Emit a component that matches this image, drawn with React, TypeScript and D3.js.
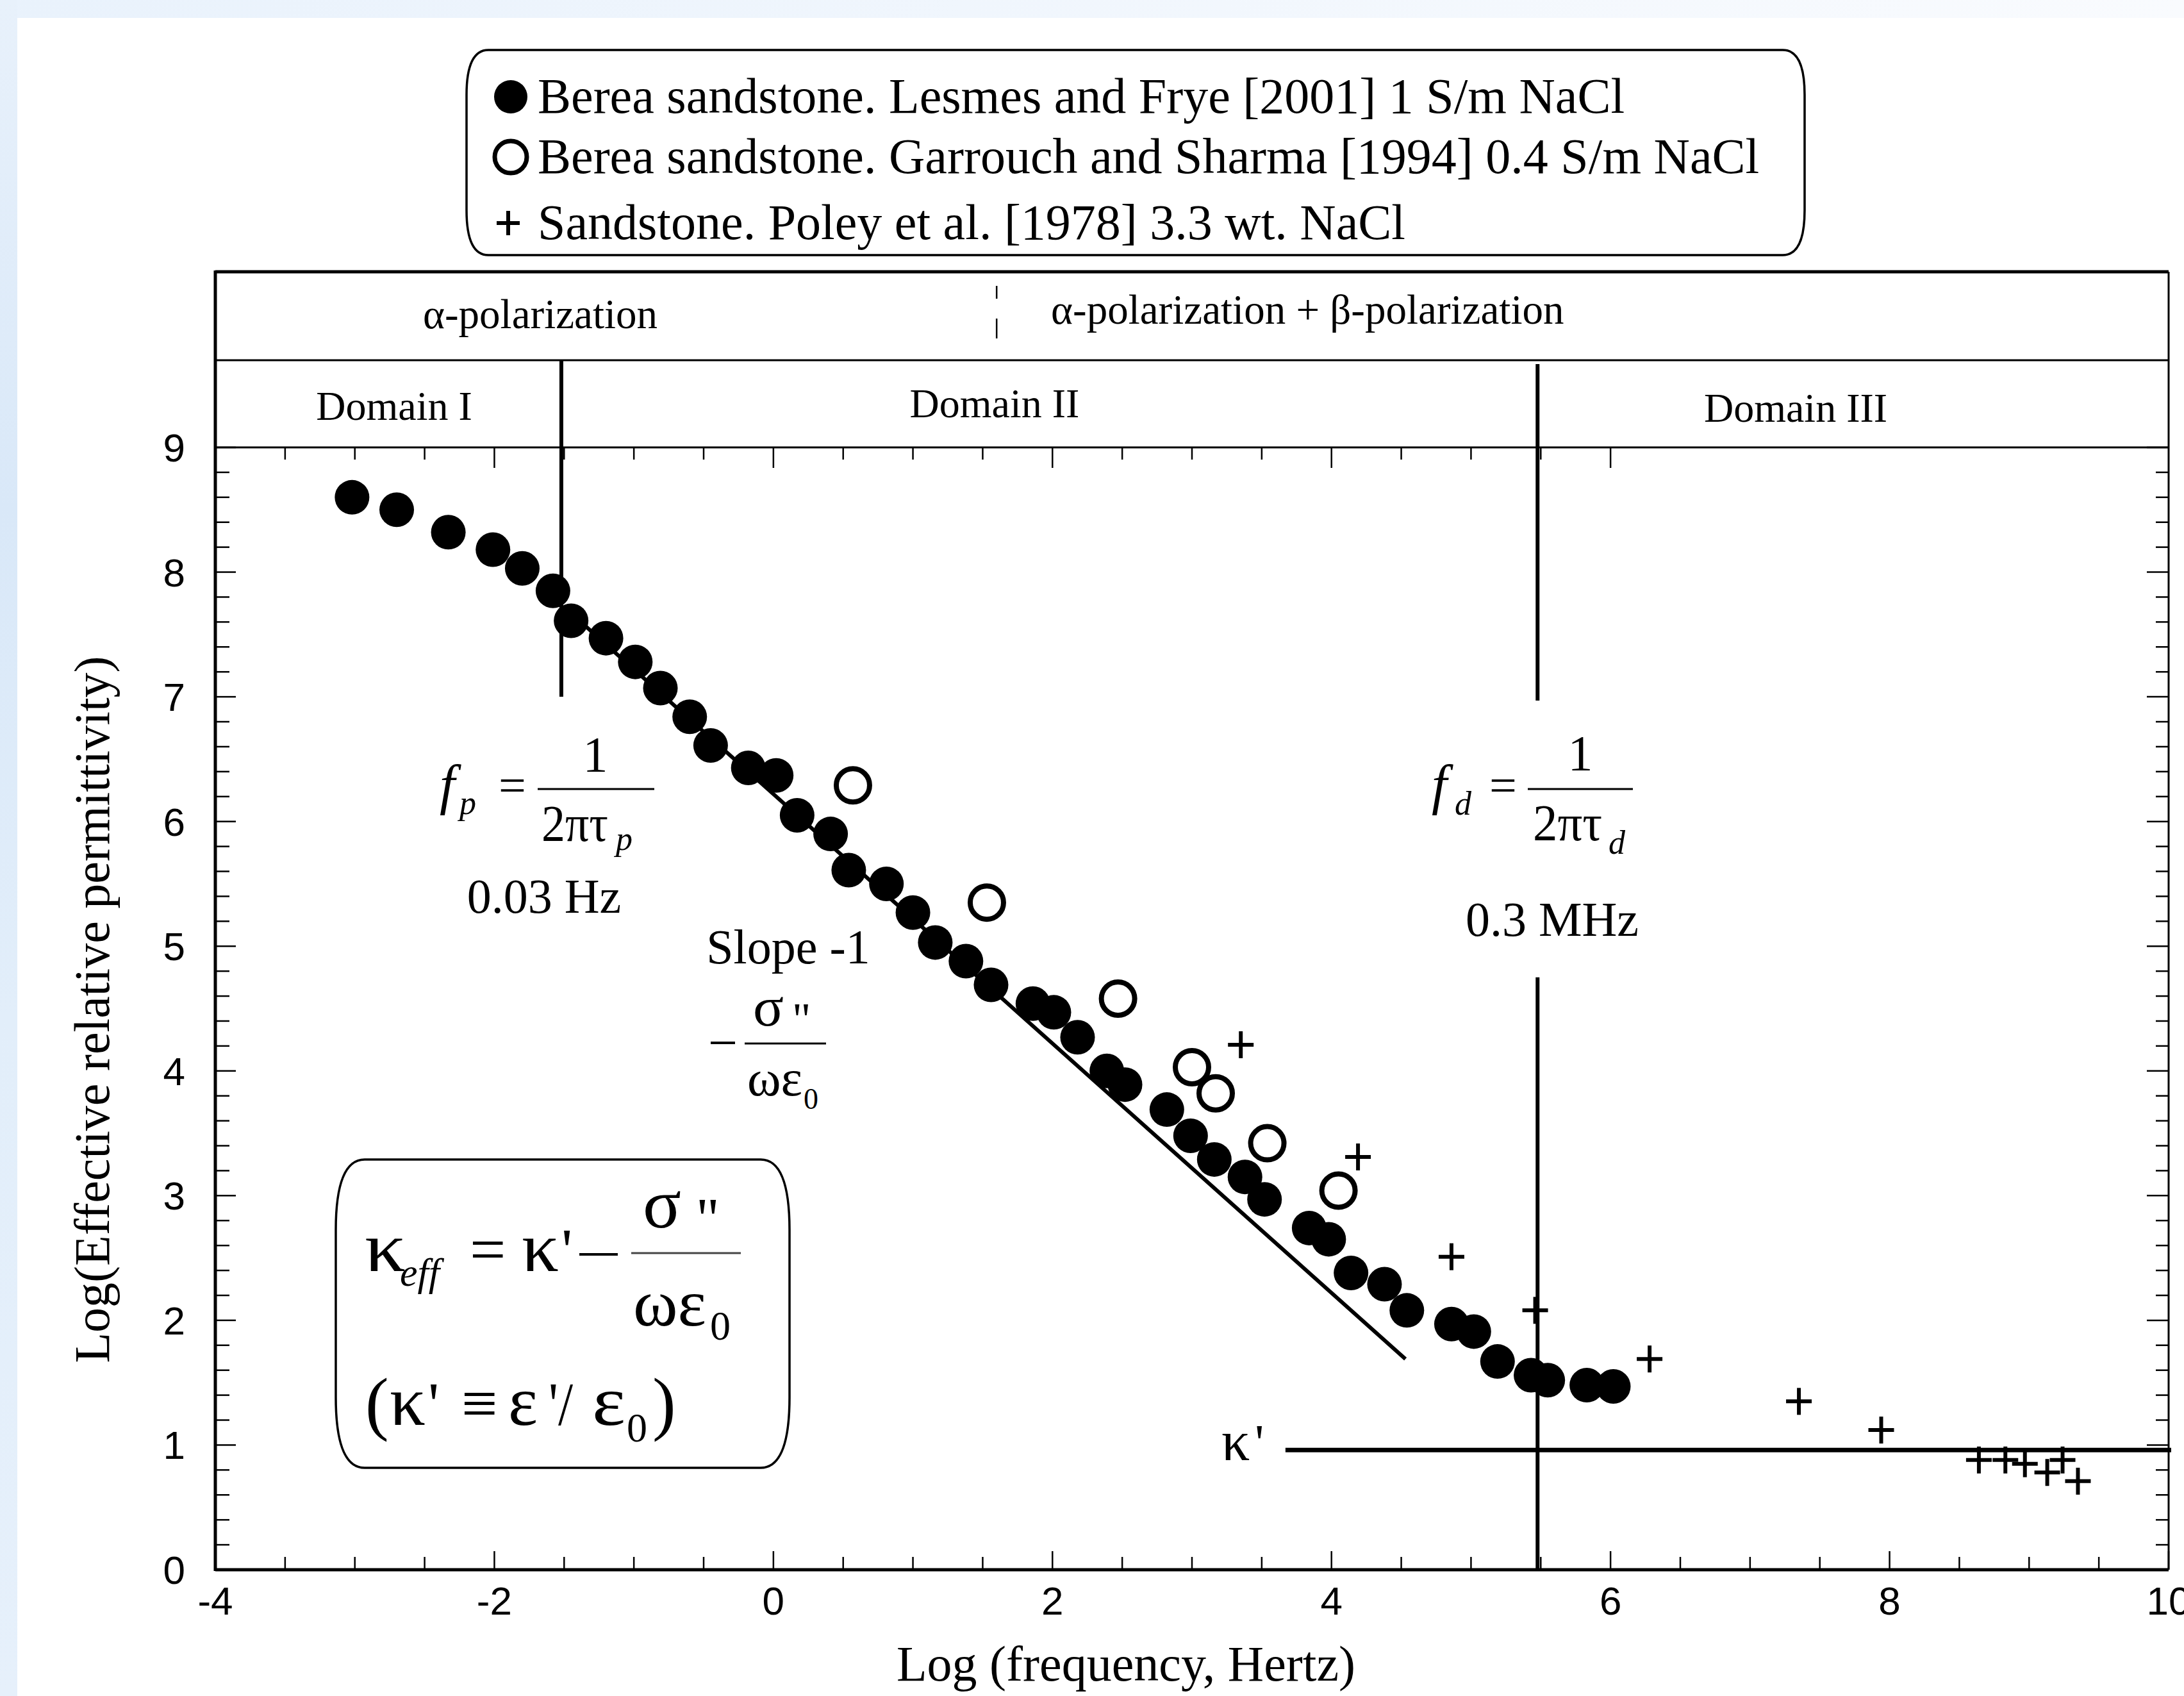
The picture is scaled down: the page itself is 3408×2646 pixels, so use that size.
import React from "react";
import * as d3 from "d3";

// Berea sandstone, Lesmes and Frye [2001] 1 S/m NaCl  (log f, log eps_eff)
const lesmesData: [number, number][] = [
  [-3.02, 8.6], [-2.7, 8.5], [-2.33, 8.32], [-2.01, 8.18], [-1.8, 8.03], [-1.58, 7.85],
  [-1.45, 7.61], [-1.2, 7.47], [-0.99, 7.28], [-0.81, 7.07], [-0.6, 6.84], [-0.45, 6.61],
  [-0.18, 6.43], [0.02, 6.37], [0.17, 6.05], [0.41, 5.9], [0.54, 5.61], [0.81, 5.5],
  [1.0, 5.27], [1.16, 5.03], [1.38, 4.88], [1.56, 4.69], [1.86, 4.54], [2.01, 4.47],
  [2.18, 4.27], [2.39, 4.0], [2.52, 3.89], [2.82, 3.69], [2.99, 3.48], [3.16, 3.29],
  [3.38, 3.15], [3.52, 2.97], [3.84, 2.74], [3.98, 2.65], [4.14, 2.38], [4.38, 2.29],
  [4.54, 2.08], [4.86, 1.97], [5.02, 1.91], [5.19, 1.67], [5.43, 1.56], [5.55, 1.52],
  [5.83, 1.48], [6.02, 1.47],
];

// Berea sandstone, Garrouch and Sharma [1994] 0.4 S/m NaCl
const garrouchData: [number, number][] = [
  [0.57, 6.29], [1.53, 5.35], [2.47, 4.58], [3.0, 4.03], [3.17, 3.82], [3.54, 3.42], [4.05, 3.04],
];

// Sandstone, Poley et al. [1978] 3.3 wt. NaCl
const poleyData: [number, number][] = [
  [3.35, 4.21], [4.19, 3.31], [4.86, 2.51], [5.46, 2.08], [6.28, 1.69], [7.35, 1.35],
  [7.94, 1.12], [8.64, 0.88], [8.83, 0.88], [8.97, 0.85], [9.13, 0.78], [9.24, 0.88], [9.35, 0.71],
];

const xTickLabels = [-4, -2, 0, 2, 4, 6, 8, 10];
const yTickLabels = [0, 1, 2, 3, 4, 5, 6, 7, 8, 9];

const legendItems = [
  { symbol: "filled", label: "Berea sandstone. Lesmes and Frye [2001] 1 S/m NaCl" },
  { symbol: "open", label: "Berea sandstone. Garrouch and Sharma [1994] 0.4 S/m NaCl" },
  { symbol: "plus", label: "Sandstone. Poley et al. [1978] 3.3 wt. NaCl" },
];

// slope -1 reference line: y = 6.22 - x
const slopeLine: [number, number][] = [[-1.5, 7.72], [4.53, 1.69]];
const kappaLevel = 0.96;
const fpLog = -1.52; // 0.03 Hz
const fdLog = 5.477; // 0.3 MHz
const polSplit = 1.6;

const serif = "'Liberation Serif', 'Times New Roman', serif";
const sans = "'Liberation Sans', Arial, sans-serif";

const Plus = ({ cx, cy, h = 20, sw = 6 }: { cx: number; cy: number; h?: number; sw?: number }) => (
  <g stroke="#000" strokeWidth={sw}>
    <line x1={cx - h} x2={cx + h} y1={cy} y2={cy} />
    <line x1={cx} x2={cx} y1={cy - h - 1} y2={cy + h + 1} />
  </g>
);

const T = (p: { x: number; y: number; s: number; t: string; it?: boolean; a?: string; f?: string; len?: number }) => (
  <text
    x={p.x}
    y={p.y}
    fontSize={p.s}
    fontFamily={p.f || serif}
    fontStyle={p.it ? "italic" : "normal"}
    textAnchor={p.a || "start"}
    fill="#000"
    {...(p.len ? { textLength: p.len, lengthAdjust: "spacingAndGlyphs" } : {})}
  >
    {p.t}
  </text>
);

export default function App() {
  const W = 3408;
  const H = 2646;
  const x = d3.scaleLinear().domain([-4, 10]).range([336, 3384]);
  const y = d3.scaleLinear().domain([0, 9]).range([2449, 698]);
  const headerTop = 424;
  const headerMid = 562;

  const bottomTicks = d3.range(-4, 10.001, 0.5);
  const topTicks = d3.range(-4, 6.001, 0.5);
  const sideTicks = d3.range(0, 9.001, 0.2);
  const isInt = (v: number, step: number) => Math.abs(v / step - Math.round(v / step)) < 1e-6;

  const slopePath = d3.line<[number, number]>().x((d) => x(d[0])).y((d) => y(d[1]))(slopeLine) || "";

  // rounded "bracket" boxes
  const roundBox = (x0: number, y0: number, x1: number, y1: number, rx: number, ry: number) =>
    `M${x0 + rx},${y0} L${x1 - rx},${y0} Q${x1},${y0} ${x1},${y0 + ry} L${x1},${y1 - ry} Q${x1},${y1} ${x1 - rx},${y1} L${x0 + rx},${y1} Q${x0},${y1} ${x0},${y1 - ry} L${x0},${y0 + ry} Q${x0},${y0} ${x0 + rx},${y0} Z`;

  return (
    <svg
      width={W}
      height={H}
      style={{ position: "absolute", left: 0, top: 0, display: "block" }}
    >
      <defs>
        <linearGradient id="topBand" x1="0" x2="1" y1="0" y2="0">
          <stop offset="0" stopColor="#e9f2fc" />
          <stop offset="1" stopColor="#f9fbfe" />
        </linearGradient>
        <linearGradient id="leftBand" x1="0" x2="0" y1="0" y2="1">
          <stop offset="0" stopColor="#e8f1fb" />
          <stop offset="0.3" stopColor="#d9e8f8" />
          <stop offset="0.6" stopColor="#e2eefa" />
          <stop offset="1" stopColor="#e6f0fb" />
        </linearGradient>
      </defs>
      <rect x={0} y={0} width={W} height={H} fill="#fff" />
      <rect x={0} y={0} width={W} height={28} fill="url(#topBand)" />
      <rect x={0} y={0} width={27} height={H} fill="url(#leftBand)" />

      {/* legend */}
      <path d={roundBox(728, 78, 2816, 398, 34, 70)} fill="#fff" stroke="#000" strokeWidth={3.5} />
      {legendItems.map((d, i) => {
        const cy = [151, 245, 348][i];
        const cx = 797;
        return (
          <g key={d.label}>
            {d.symbol === "filled" && <circle cx={cx} cy={cy} r={26} fill="#000" />}
            {d.symbol === "open" && <circle cx={cx} cy={cy} r={25} fill="none" stroke="#000" strokeWidth={7} />}
            {d.symbol === "plus" && <Plus cx={cx - 4} cy={cy} h={18} sw={6} />}
            <T x={839} y={cy + 25} s={78} t={d.label} />
          </g>
        );
      })}

      {/* header boxes */}
      <g stroke="#000" fill="none">
        <line x1={x(-4)} x2={x(10)} y1={headerTop} y2={headerTop} strokeWidth={5} />
        <line x1={x(-4)} x2={x(10)} y1={headerMid} y2={headerMid} strokeWidth={3} />
        <line x1={x(-4)} x2={x(10)} y1={y(9)} y2={y(9)} strokeWidth={3} />
        <line x1={x(10)} x2={x(10)} y1={headerTop} y2={y(0)} strokeWidth={3} />
        <line x1={x(polSplit)} x2={x(polSplit)} y1={446} y2={466} strokeWidth={2.5} />
        <line x1={x(polSplit)} x2={x(polSplit)} y1={497} y2={528} strokeWidth={2.5} />
      </g>
      <T x={843} y={512} s={65} t="α-polarization" a="middle" />
      <T x={1640} y={505} s={65} t="α-polarization + β-polarization" />
      <T x={615} y={655} s={64} t="Domain I" a="middle" />
      <T x={1552} y={651} s={64} t="Domain II" a="middle" />
      <T x={2802} y={658} s={64} t="Domain III" a="middle" />

      {/* ticks */}
      <g stroke="#000" strokeWidth={2.5}>
        {bottomTicks.map((v) => (
          <line key={"b" + v} x1={x(v)} x2={x(v)} y1={y(0)} y2={y(0) - (isInt(v, 2) ? 29 : 20)} />
        ))}
        {topTicks.map((v) => (
          <line key={"t" + v} x1={x(v)} x2={x(v)} y1={y(9)} y2={y(9) + (isInt(v, 2) ? 32 : 19)} />
        ))}
        {sideTicks.map((v) => (
          <line key={"l" + v} x1={x(-4)} x2={x(-4) + (isInt(v, 1) ? 32 : 22)} y1={y(v)} y2={y(v)} />
        ))}
        {sideTicks.map((v) => (
          <line key={"r" + v} x1={x(10)} x2={x(10) - (isInt(v, 1) ? 34 : 20)} y1={y(v)} y2={y(v)} />
        ))}
      </g>
      <line x1={x(-4)} x2={x(-4)} y1={headerTop - 2} y2={y(0) + 2} stroke="#000" strokeWidth={5} />
      <line x1={x(-4)} x2={x(10)} y1={y(0)} y2={y(0)} stroke="#000" strokeWidth={5} />

      {/* tick labels */}
      {xTickLabels.map((v) => (
        <T key={"xl" + v} x={x(v)} y={2519} s={62} t={String(v)} a="middle" f={sans} />
      ))}
      {yTickLabels.map((v) => (
        <T key={"yl" + v} x={289} y={y(v) + 22} s={62} t={String(v)} a="end" f={sans} />
      ))}

      {/* axis titles */}
      <T x={1757} y={2622} s={78} t="Log (frequency, Hertz)" a="middle" />
      <g transform="translate(170,1575) rotate(-90)">
        <T x={0} y={0} s={78} t="Log(Effective relative permittivity)" a="middle" />
      </g>

      {/* domain boundaries and reference lines */}
      <g stroke="#000" strokeWidth={6}>
        <line x1={x(fpLog)} x2={x(fpLog)} y1={headerMid} y2={y(7.0)} />
        <line x1={x(fdLog)} x2={x(fdLog)} y1={headerMid + 6} y2={y(6.97)} />
        <line x1={x(fdLog)} x2={x(fdLog)} y1={y(4.75)} y2={y(0)} />
        <line x1={x(3.67)} x2={x(10) + 4} y1={y(kappaLevel)} y2={y(kappaLevel)} strokeWidth={7} />
      </g>
      <path d={slopePath} stroke="#000" strokeWidth={6} fill="none" />

      {/* data */}
      {lesmesData.map((d, i) => (
        <circle key={"f" + i} cx={x(d[0])} cy={y(d[1])} r={27} fill="#000" />
      ))}
      {garrouchData.map((d, i) => (
        <circle key={"o" + i} cx={x(d[0])} cy={y(d[1])} r={26} fill="#fff" stroke="#000" strokeWidth={8} />
      ))}
      {poleyData.map((d, i) => (
        <Plus key={"p" + i} cx={x(d[0])} cy={y(d[1])} />
      ))}

      {/* f_p annotation */}
      <T x={686} y={1253} s={86} t="f" it />
      <T x={717} y={1270} s={52} t="p" it />
      <T x={778} y={1251} s={76} t="=" />
      <line x1={839} x2={1021} y1={1231} y2={1231} stroke="#000" strokeWidth={3} />
      <T x={929} y={1203} s={78} t="1" a="middle" />
      <T x={845} y={1312} s={80} t="2πτ" len={104} />
      <T x={961} y={1326} s={52} t="p" it />
      <T x={849} y={1424} s={76} t="0.03 Hz" a="middle" />

      {/* f_d annotation */}
      <T x={2234} y={1253} s={86} t="f" it />
      <T x={2270} y={1271} s={52} t="d" it />
      <T x={2324} y={1251} s={76} t="=" />
      <line x1={2384} x2={2548} y1={1231} y2={1231} stroke="#000" strokeWidth={3} />
      <T x={2466} y={1201} s={78} t="1" a="middle" />
      <T x={2392} y={1311} s={80} t="2πτ" len={108} />
      <T x={2510} y={1332} s={52} t="d" it />
      <T x={2422} y={1460} s={76} t="0.3 MHz" a="middle" />

      {/* slope annotation */}
      <T x={1230} y={1503} s={76} t="Slope -1" a="middle" />
      <line x1={1109} x2={1147} y1={1627} y2={1627} stroke="#000" strokeWidth={4} />
      <line x1={1162} x2={1289} y1={1628} y2={1628} stroke="#000" strokeWidth={3} />
      <T x={1175} y={1600} s={86} t="σ" len={48} />
      <T x={1236} y={1614} s={72} t={'"'} />
      <T x={1166} y={1709} s={80} t="ωε" len={86} />
      <T x={1254} y={1730} s={46} t="0" />

      {/* kappa' label */}
      <T x={1906} y={2278} s={88} t="κ" />
      <T x={1958} y={2278} s={80} t="'" />

      {/* formula box */}
      <path d={roundBox(524, 1809, 1232, 2290, 45, 110)} fill="none" stroke="#000" strokeWidth={3.5} />
      <T x={569} y={1983} s={110} t="κ" len={64} />
      <T x={624} y={2006} s={62} t="eff" it />
      <T x={733} y={1983} s={100} t="=" />
      <T x={814} y={1983} s={110} t="κ" len={58} />
      <T x={876} y={1983} s={96} t="'" />
      <line x1={904} x2={964} y1={1957} y2={1957} stroke="#000" strokeWidth={4} />
      <line x1={985} x2={1156} y1={1955} y2={1955} stroke="#444" strokeWidth={3} />
      <T x={1003} y={1915} s={110} t="σ" len={60} />
      <T x={1086} y={1932} s={90} t={'"'} />
      <T x={988} y={2068} s={104} t="ωε" len={114} />
      <T x={1108} y={2090} s={64} t="0" />
      <T x={570} y={2226} s={110} t="(" />
      <T x={608} y={2223} s={110} t="κ" len={56} />
      <T x={668} y={2223} s={96} t="'" />
      <T x={720} y={2223} s={100} t="≡" />
      <T x={793} y={2223} s={110} t="ε" len={46} />
      <T x={856} y={2223} s={96} t="'/" len={38} />
      <T x={924} y={2223} s={110} t="ε" len={52} />
      <T x={978} y={2249} s={64} t="0" />
      <T x={1018} y={2226} s={110} t=")" />
    </svg>
  );
}
